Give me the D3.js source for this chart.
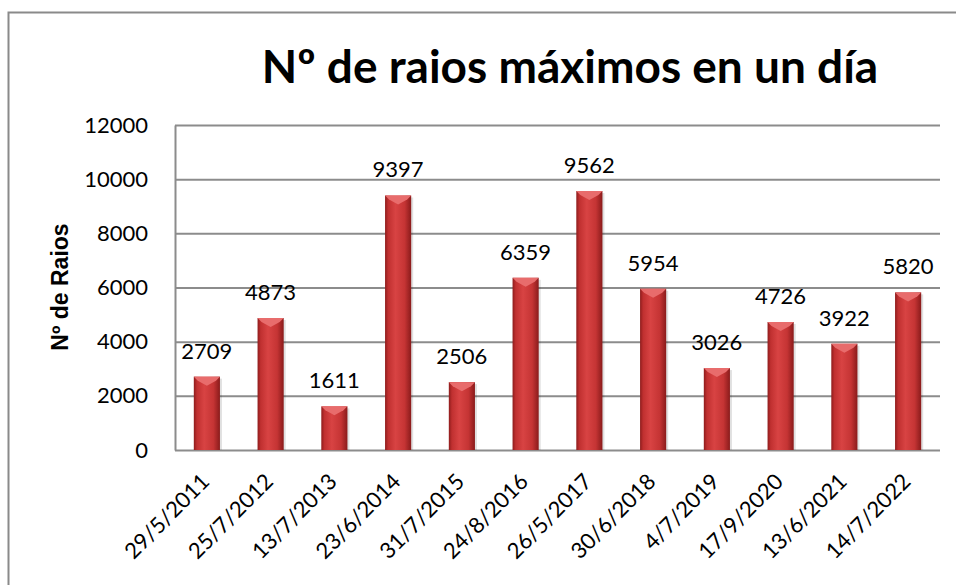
<!DOCTYPE html>
<html>
<head>
<meta charset="utf-8">
<script src="https://cdn.jsdelivr.net/npm/d3@7"></script>
<style>
  body { margin: 0; background: #fff; }
  svg text { font-family: Lato, "Open Sans", sans-serif; fill: #000; }
</style>
</head>
<body>
<svg id="chart" width="956" height="585"></svg>
<script>
const fechas = ["29/5/2011", "25/7/2012", "13/7/2013", "23/6/2014", "31/7/2015", "24/8/2016",
    "26/5/2017", "30/6/2018", "4/7/2019", "17/9/2020", "13/6/2021", "14/7/2022"];
const raios = [2709, 4873, 1611, 9397, 2506, 6359, 9562, 5954, 3026, 4726, 3922, 5820];
const yTicks = [0, 2000, 4000, 6000, 8000, 10000, 12000];

const margin = {top: 125, right: 16, bottom: 135, left: 175},
    width = 956 - margin.left - margin.right,
    height = 585 - margin.top - margin.bottom;

const svg = d3.select("#chart");

// outer frame of the chart
svg.append("rect")
    .attr("x", 8.5).attr("y", 12.5)
    .attr("width", 1000).attr("height", 1000)
    .attr("fill", "none")
    .attr("stroke", "#8a8a8a")
    .attr("stroke-width", 2);

const defs = svg.append("defs");
const grad = defs.append("linearGradient").attr("id", "barGrad")
    .attr("x1", "0").attr("x2", "1").attr("y1", "0").attr("y2", "0");
grad.append("stop").attr("offset", "0%").attr("stop-color", "#8e1c1c");
grad.append("stop").attr("offset", "12%").attr("stop-color", "#c03030");
grad.append("stop").attr("offset", "40%").attr("stop-color", "#d84343");
grad.append("stop").attr("offset", "75%").attr("stop-color", "#c53434");
grad.append("stop").attr("offset", "100%").attr("stop-color", "#8a1b1b");

const g = svg.append("g")
    .attr("transform", "translate(" + margin.left + "," + margin.top + ")");

const x = d3.scaleBand()
    .domain(fechas)
    .range([0, width])
    .paddingInner(0.59)
    .paddingOuter(0.295);

const y = d3.scaleLinear()
    .domain([0, 12000])
    .range([height, 0]);

// gridlines
g.append("g")
    .attr("class", "grid")
    .call(d3.axisLeft(y).tickValues(yTicks).tickSize(-width).tickFormat(""))
    .call(s => s.select(".domain").remove())
    .selectAll("line")
    .attr("stroke", "#8c8c8c")
    .attr("stroke-width", 2);

// y axis
g.append("g")
    .attr("class", "y-axis")
    .call(d3.axisLeft(y).tickValues(yTicks).tickSize(0).tickPadding(27).tickFormat(d3.format("d")))
    .call(s => s.select(".domain").attr("stroke", "#8c8c8c").attr("stroke-width", 2))
    .selectAll("text")
    .style("font-size", "22px")
    .attr("fill", "#000");

// x axis
g.append("g")
    .attr("class", "x-axis")
    .attr("transform", "translate(0," + height + ")")
    .call(d3.axisBottom(x).tickSize(0).tickPadding(0))
    .call(s => s.select(".domain").remove())
    .selectAll("text")
    .style("font-size", "22px")
    .attr("fill", "#000")
    .attr("text-anchor", "end")
    .attr("dy", 0)
    .attr("transform", "translate(4,33) rotate(-45)");

// bars
const bars = g.selectAll(".bar")
    .data(raios)
    .enter()
    .append("g")
    .attr("class", "bar");

bars.append("rect")
    .attr("x", (d, i) => x(fechas[i]) + 2)
    .attr("y", d => y(d) + 2)
    .attr("width", x.bandwidth())
    .attr("height", d => height - y(d) - 2)
    .attr("fill", "#000")
    .attr("opacity", 0.12);

bars.append("rect")
    .attr("x", (d, i) => x(fechas[i]))
    .attr("y", d => y(d))
    .attr("width", x.bandwidth())
    .attr("height", d => height - y(d))
    .attr("fill", "url(#barGrad)");

// bevel on the top of each bar
bars.append("path")
    .attr("d", (d, i) => {
        const x0 = x(fechas[i]), w = x.bandwidth(), y0 = y(d);
        return "M" + x0 + "," + y0 + "L" + (x0 + w) + "," + y0 +
            "L" + (x0 + w - 4) + "," + (y0 + 4) + "L" + (x0 + w / 2) + "," + (y0 + 9) +
            "L" + (x0 + 4) + "," + (y0 + 4) + "Z";
    })
    .attr("fill", "#e86c6c");

// value labels
g.selectAll(".value")
    .data(raios)
    .enter()
    .append("text")
    .attr("class", "value")
    .attr("x", (d, i) => x(fechas[i]) + x.bandwidth() / 2)
    .attr("y", d => y(d) - 18)
    .attr("text-anchor", "middle")
    .style("font-size", "22px")
    .text(d => d);

// title
svg.append("text")
    .attr("x", 570)
    .attr("y", 83)
    .attr("text-anchor", "middle")
    .style("font-size", "46px")
    .style("font-weight", "bold")
    .text("Nº de raios máximos en un día");

// y axis title
svg.append("text")
    .attr("transform", "translate(68,287) rotate(-90)")
    .attr("text-anchor", "middle")
    .style("font-family", "'Liberation Sans', Arial, sans-serif")
    .style("font-size", "23px")
    .style("font-weight", "bold")
    .text("Nº de Raios");
</script>
</body>
</html>
